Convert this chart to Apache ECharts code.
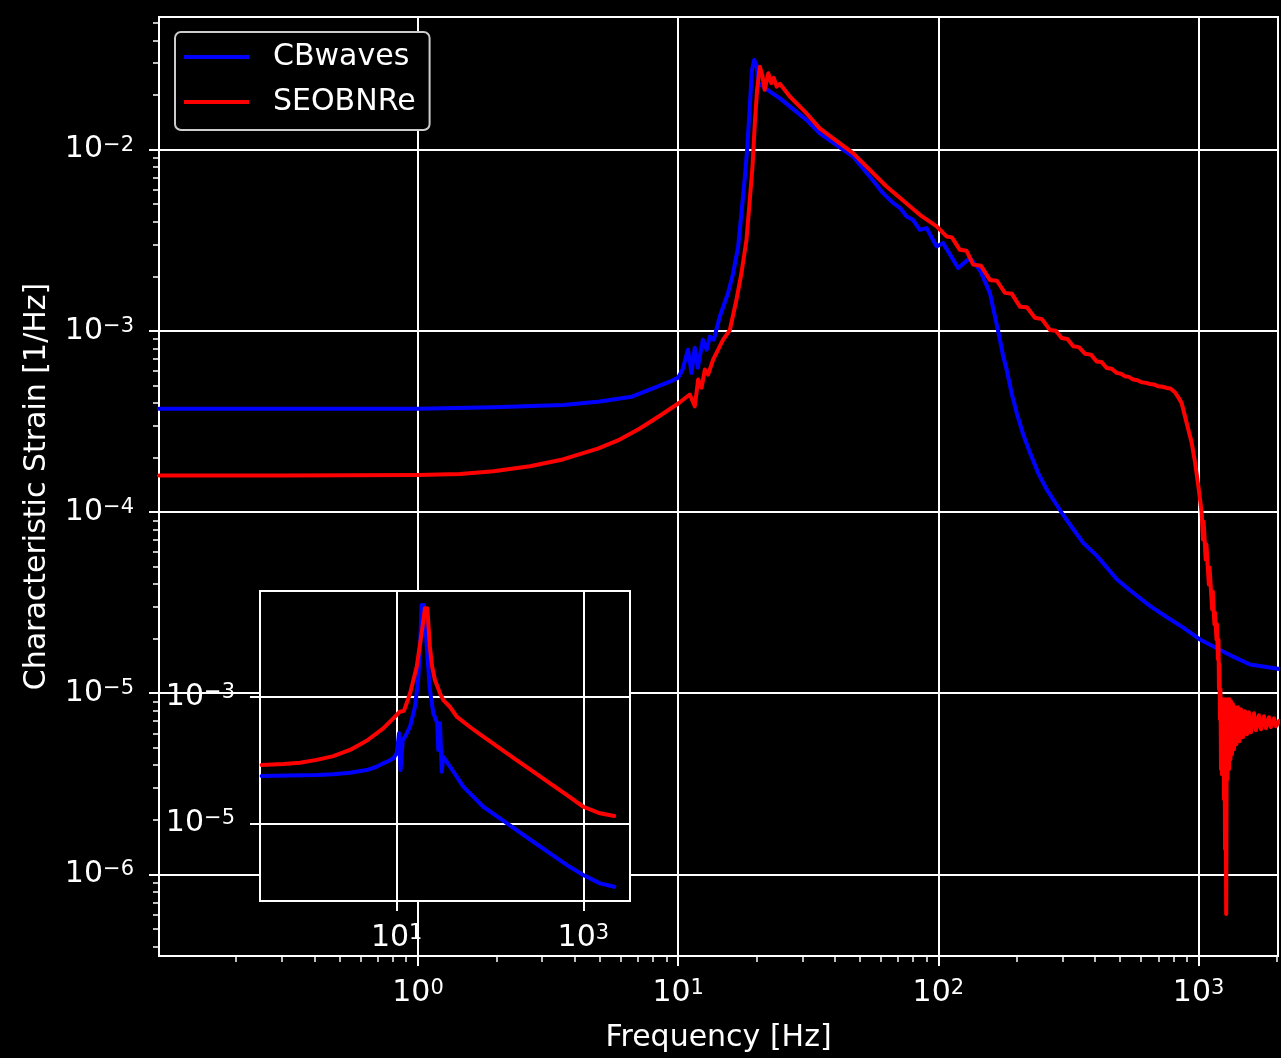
<!DOCTYPE html>
<html>
<head>
<meta charset="utf-8">
<script src="https://cdn.jsdelivr.net/npm/echarts@6/dist/echarts.min.js"></script>
<style>
  html, body { margin: 0; padding: 0; background: #000; }
  #chart { width: 1281px; height: 1058px; }
</style>
</head>
<body>
<div id="chart"></div>
<script>
// ---------------- main panel: characteristic strain spectrum ----------------
const cbwavesFreq = [
  0.101, 0.3, 1.0, 1.95, 3.61, 5.0, 6.63, 8.13, 9.28, 10.0,
  10.4, 10.9, 11.25, 11.58, 11.89, 12.44, 12.88, 13.22, 13.7, 14.45, 15.55, 16.26, 17.0, 17.5, 18.0, 18.4, 18.84, 19.2, 19.58, 20.0, 20.3,
  21.5, 24.6, 31.1, 35.0, 47.0, 57.8, 60.5, 63.2, 66.9, 71.1, 75.5, 79.8, 84.9, 90.1, 98.5, 104.3, 119.1, 132.1, 144.4, 157.7, 169.8,
  177.5, 183, 191.1, 200, 211.8, 225, 241.9, 261, 298, 320.3, 360, 406, 485, 545, 650, 749, 873, 1012, 1359, 1577, 2048
];
const cbwavesStrain = [
  3.71e-4, 3.71e-4, 3.72e-4, 3.78e-4, 3.90e-4, 4.07e-4, 4.33e-4, 4.86e-4, 5.24e-4, 5.52e-4,
  6.11e-4, 7.87e-4, 5.86e-4, 8.07e-4, 6.26e-4, 8.94e-4, 7.87e-4, 9.29e-4, 8.94e-4, 1.20e-3, 1.62e-3, 2.08e-3, 2.92e-3, 4.47e-3, 6.82e-3, 9.97e-3, 1.73e-2, 2.75e-2, 3.13e-2, 2.94e-2, 2.33e-2,
  2.19e-2, 1.92e-2, 1.46e-2, 1.23e-2, 9.16e-3, 6.40e-3, 5.87e-3, 5.51e-3, 5.09e-3, 4.78e-3, 4.28e-3, 4.10e-3, 3.61e-3, 3.69e-3, 2.92e-3, 3.05e-3, 2.22e-3, 2.52e-3, 2.17e-3, 1.62e-3, 9.93e-4,
  7.23e-4, 6.11e-4, 4.54e-4, 3.52e-4, 2.68e-4, 2.12e-4, 1.64e-4, 1.33e-4, 9.90e-5, 8.53e-5, 6.76e-5, 5.74e-5, 4.25e-5, 3.70e-5, 3.03e-5, 2.65e-5, 2.30e-5, 1.98e-5, 1.59e-5, 1.44e-5, 1.36e-5
];

const seobnreFreq = [
  0.101, 0.3, 1.0, 1.45, 1.95, 2.69, 3.60, 4.91, 5.96, 7.12, 8.50, 10.0,
  11.08, 11.58, 11.93, 12.30, 12.66, 13.03, 13.62, 14.88, 15.79, 16.75, 17.5, 18.3, 18.84, 19.3, 19.7, 20.1, 20.6, 21.1, 21.5, 22.2, 22.8, 23.3, 23.9, 24.6,
  26.9, 31.1, 35.0, 47.0, 63.2, 84.9, 98.5,
  107.5, 112.7, 120.9, 128.2, 136.1, 145.7, 157.8, 167.9, 180.2, 191.7, 205.8, 218.9, 235, 250, 268.4, 283, 297.6, 313.3, 329.8, 346.9,
  365.8, 385.8, 405.7, 424.2, 443.4, 463.4, 484.3, 503.1, 521.3, 540.1, 561.1, 582.3, 604.3, 627.8, 650.5, 674, 699.8, 726.4, 754, 779.8, 811.4,
  837, 861, 900, 941, 970, 998, 1028, 1040, 1046, 1065, 1072, 1095, 1102, 1128, 1135, 1150, 1156,
  1172, 1177, 1187, 1193, 1198, 1203, 1209, 1214, 1220, 1225, 1230, 1236, 1241, 1247, 1252, 1258, 1264, 1269, 1277, 1284, 1292, 1297,
  1309, 1315, 1326, 1332, 1344, 1356, 1368, 1380, 1398, 1417, 1436, 1455, 1481, 1508, 1535, 1562, 1590, 1633, 1662, 1707, 1738, 1784,
  1816, 1865, 1898, 1950, 1985, 2038
];
const seobnreStrain = [
  1.59e-4, 1.59e-4, 1.60e-4, 1.62e-4, 1.68e-4, 1.79e-4, 1.95e-4, 2.24e-4, 2.51e-4, 2.89e-4, 3.40e-4, 3.97e-4,
  4.45e-4, 3.83e-4, 5.38e-4, 4.86e-4, 6.11e-4, 5.73e-4, 6.93e-4, 8.94e-4, 1.01e-3, 1.49e-3, 2.08e-3, 3.18e-3, 5.28e-3, 8.07e-3, 1.40e-2, 2.14e-2, 2.87e-2, 2.53e-2, 2.14e-2, 2.64e-2, 2.33e-2, 2.49e-2, 2.23e-2, 2.31e-2,
  1.96e-2, 1.59e-2, 1.31e-2, 9.57e-3, 6.26e-3, 4.37e-3, 3.77e-3,
  3.32e-3, 3.28e-3, 2.80e-3, 2.77e-3, 2.32e-3, 2.29e-3, 1.91e-3, 1.89e-3, 1.62e-3, 1.60e-3, 1.36e-3, 1.35e-3, 1.18e-3, 1.16e-3, 1.01e-3, 1.00e-3, 9.14e-4, 9.02e-4, 8.21e-4, 8.13e-4,
  7.48e-4, 7.39e-4, 6.78e-4, 6.72e-4, 6.24e-4, 6.18e-4, 5.86e-4, 5.80e-4, 5.61e-4, 5.57e-4, 5.38e-4, 5.34e-4, 5.20e-4, 5.16e-4, 5.09e-4, 5.06e-4, 4.94e-4, 4.91e-4, 4.84e-4, 4.80e-4, 4.58e-4,
  4.28e-4, 4.00e-4, 3.10e-4, 2.41e-4, 1.87e-4, 1.39e-4, 9.90e-5, 7.05e-5, 8.86e-5, 5.47e-5, 6.62e-5, 3.98e-5, 4.94e-5, 2.90e-5, 3.64e-5, 2.40e-5, 2.79e-5,
  1.98e-5, 2.40e-5, 1.54e-5, 1.98e-5, 1.05e-5, 1.44e-5, 7.18e-6, 1.05e-5, 3.80e-6, 9.25e-6, 3.57e-6, 8.68e-6, 3.80e-6, 9.25e-6, 2.60e-6, 8.68e-6, 1.38e-6, 9.25e-6, 6.04e-7, 8.68e-6, 3.35e-6, 9.25e-6,
  3.80e-6, 9.25e-6, 4.32e-6, 9.02e-6, 4.60e-6, 8.68e-6, 4.90e-6, 8.36e-6, 5.22e-6, 8.36e-6, 5.43e-6, 8.15e-6, 5.71e-6, 7.94e-6, 5.93e-6, 7.84e-6, 6.08e-6, 7.74e-6, 6.24e-6, 7.55e-6, 6.32e-6, 7.45e-6,
  6.40e-6, 7.36e-6, 6.49e-6, 7.26e-6, 6.56e-6, 7.00e-6
];

// ---------------- inset panel ----------------
const insetCbwavesX = [
  0.357, 1.39, 2.09, 3.16, 4.77, 6.0, 7.18, 8.3, 9.20, 10.0, 10.6, 11.0, 11.6, 12.3, 13.9, 15.7, 17.0, 17.8, 18.5, 19.6, 21.0, 22.7, 24.7,
  26.4, 27.2, 27.9, 29.1, 30.4, 31.6, 37.3, 44.0, 51.7, 66.2, 84.8, 128, 193, 291, 440, 664, 1000, 1510, 2149
];
const insetCbwavesY = [
  5.61e-5, 5.82e-5, 6.00e-5, 6.32e-5, 6.98e-5, 7.80e-5, 8.91e-5, 9.80e-5, 1.07e-4, 1.28e-4, 2.66e-4, 6.98e-5, 2.08e-4, 2.35e-4, 3.39e-4, 7.02e-4, 1.86e-3, 6.26e-3, 2.86e-2, 2.86e-2, 6.26e-3, 1.29e-3, 5.52e-4,
  4.33e-4, 3.83e-4, 1.45e-4, 3.83e-4, 6.56e-5, 1.13e-4, 7.87e-5, 5.47e-5, 3.80e-5, 2.64e-5, 1.83e-5, 1.20e-5, 7.83e-6, 5.11e-6, 3.35e-6, 2.19e-6, 1.52e-6, 1.12e-6, 9.91e-7
];
const insetSeobnreX = [
  0.357, 0.609, 0.920, 1.39, 2.09, 3.16, 4.77, 7.18, 9.20, 10.8, 12.0, 13.9, 16.4, 18.5, 20.1, 21.3, 22.7, 23.9, 25.7, 29.6, 31.6, 37.3, 44.0,
  61.0, 84.8, 128, 193, 291, 440, 664, 1000, 1510, 2149
];
const insetSeobnreY = [
  8.38e-5, 8.69e-5, 9.11e-5, 1.01e-4, 1.16e-4, 1.45e-4, 2.03e-4, 3.19e-4, 4.60e-4, 5.85e-4, 6.07e-4, 1.14e-3, 3.02e-3, 1.02e-2, 2.54e-2, 2.54e-2, 6.26e-3, 3.10e-3, 1.86e-3, 1.08e-3, 8.96e-4, 6.95e-4, 4.88e-4,
  3.35e-4, 2.35e-4, 1.54e-4, 1.00e-4, 6.56e-5, 4.30e-5, 2.81e-5, 1.83e-5, 1.44e-5, 1.31e-5
];

// axis limits and labelled decades
const mainXRange = [0.101, 2020];
const mainYRange = [3.54e-7, 0.054];
const insetXRange = [0.343, 3165];
const insetYRange = [5.89e-7, 0.0477];
const mainXMajor = [1, 10, 100, 1000];
const mainYMajor = [1e-6, 1e-5, 1e-4, 1e-3, 1e-2];
const insetXMajor = [10, 1000];
const insetYMajor = [1e-5, 1e-3];

const lg = Math.log10;
const FONT = 'DejaVu Sans';
const WHITE = '#ffffff';

// minor ticks at 2..9 x 10^n inside a range
function minorTicks(range) {
  const out = [];
  const lo = Math.floor(lg(range[0])), hi = Math.ceil(lg(range[1]));
  for (let e = lo; e <= hi; e++) {
    for (let m = 2; m <= 9; m++) {
      const v = m * Math.pow(10, e);
      if (v >= range[0] && v <= range[1]) out.push(lg(v));
    }
  }
  return out;
}

function pairs(xs, ys) {
  return xs.map((x, i) => [lg(x), lg(ys[i])]);
}

const powRich = {
  b: { fontFamily: FONT, fontSize: 30, color: WHITE, lineHeight: 30, verticalAlign: 'bottom' },
  s: { fontFamily: FONT, fontSize: 21, color: WHITE, lineHeight: 14, verticalAlign: 'top' }
};
function powLabel(v) {
  const e = Math.round(v);
  return '{b|10}{s|' + (e < 0 ? '\u2212' + (-e) : String(e)) + '}';
}

function majorAxis(opts) {
  return Object.assign({
    type: 'value',
    axisLine: { show: true, onZero: false, lineStyle: { color: WHITE, width: 2 } },
    axisTick: { show: true, inside: false, length: 10, customValues: opts.ticks, lineStyle: { color: WHITE, width: 2 } },
    axisLabel: { show: true, customValues: opts.ticks, formatter: powLabel, rich: powRich, margin: opts.margin, color: WHITE },
    splitLine: { show: true, lineStyle: { color: WHITE, width: 2 } }
  }, opts.extra);
}
function minorAxis(opts) {
  return Object.assign({
    type: 'value',
    axisLine: { show: false, onZero: false },
    axisTick: { show: true, inside: false, length: 6, customValues: opts.ticks, lineStyle: { color: WHITE, width: 1.5 } },
    axisLabel: { show: false },
    splitLine: { show: false }
  }, opts.extra);
}

const chart = echarts.init(document.getElementById('chart'), null, { renderer: 'canvas' });

const lineStyle = (c) => ({ color: c, width: 4, join: 'round', cap: 'round' });

chart.setOption({
  backgroundColor: '#000000',
  animation: false,
  textStyle: { fontFamily: FONT },
  grid: [
    { left: 159, top: 17, width: 1119, height: 940, show: true, backgroundColor: 'transparent', borderColor: WHITE, borderWidth: 2, containLabel: false },
    { left: 260, top: 591, width: 370, height: 310, show: true, backgroundColor: '#000000', borderColor: WHITE, borderWidth: 2, containLabel: false, z: 5 }
  ],
  legend: {
    orient: 'vertical', left: 175, top: 32,
    padding: [8, 14, 11, 9],
    itemWidth: 65, itemHeight: 4, itemGap: 11, icon: 'rect',
    backgroundColor: '#000000', borderColor: '#cccccc', borderWidth: 2, borderRadius: 6,
    textStyle: { color: WHITE, fontSize: 30, fontFamily: FONT, lineHeight: 34, padding: [0, 0, 0, 19] },
    data: ['CBwaves', 'SEOBNRe']
  },
  xAxis: [
    majorAxis({
      ticks: mainXMajor.map(lg), margin: 22,
      extra: {
        gridIndex: 0, position: 'bottom', min: lg(mainXRange[0]), max: lg(mainXRange[1]),
        name: 'Frequency [Hz]', nameLocation: 'middle', nameGap: 67,
        nameTextStyle: { color: WHITE, fontSize: 30, fontFamily: FONT }
      }
    }),
    minorAxis({ ticks: minorTicks(mainXRange), extra: { gridIndex: 0, position: 'bottom', min: lg(mainXRange[0]), max: lg(mainXRange[1]) } }),
    majorAxis({
      ticks: insetXMajor.map(lg), margin: 22,
      extra: { gridIndex: 1, position: 'bottom', min: lg(insetXRange[0]), max: lg(insetXRange[1]), z: 6 }
    })
  ],
  yAxis: [
    majorAxis({
      ticks: mainYMajor.map(lg), margin: 25,
      extra: {
        gridIndex: 0, position: 'left', min: lg(mainYRange[0]), max: lg(mainYRange[1]),
        name: 'Characteristic Strain [1/Hz]', nameLocation: 'middle', nameGap: 107, nameRotate: 90,
        nameTextStyle: { color: WHITE, fontSize: 30, fontFamily: FONT }
      }
    }),
    minorAxis({ ticks: minorTicks(mainYRange), extra: { gridIndex: 0, position: 'left', min: lg(mainYRange[0]), max: lg(mainYRange[1]) } }),
    majorAxis({
      ticks: insetYMajor.map(lg), margin: 25,
      extra: { gridIndex: 1, position: 'left', min: lg(insetYRange[0]), max: lg(insetYRange[1]), z: 6 }
    })
  ],
  series: [
    { type: 'line', name: 'CBwaves', xAxisIndex: 0, yAxisIndex: 0, data: pairs(cbwavesFreq, cbwavesStrain),
      showSymbol: false, symbol: 'none', lineStyle: lineStyle('#0000ff'), itemStyle: { color: '#0000ff' }, z: 2 },
    { type: 'line', name: 'SEOBNRe', xAxisIndex: 0, yAxisIndex: 0, data: pairs(seobnreFreq, seobnreStrain),
      showSymbol: false, symbol: 'none', lineStyle: lineStyle('#ff0000'), itemStyle: { color: '#ff0000' }, z: 3 },
    { type: 'line', name: 'CBwaves', xAxisIndex: 2, yAxisIndex: 2, data: pairs(insetCbwavesX, insetCbwavesY),
      showSymbol: false, symbol: 'none', lineStyle: lineStyle('#0000ff'), itemStyle: { color: '#0000ff' }, z: 7 },
    { type: 'line', name: 'SEOBNRe', xAxisIndex: 2, yAxisIndex: 2, data: pairs(insetSeobnreX, insetSeobnreY),
      showSymbol: false, symbol: 'none', lineStyle: lineStyle('#ff0000'), itemStyle: { color: '#ff0000' }, z: 8 }
  ]
});
</script>
</body>
</html>
